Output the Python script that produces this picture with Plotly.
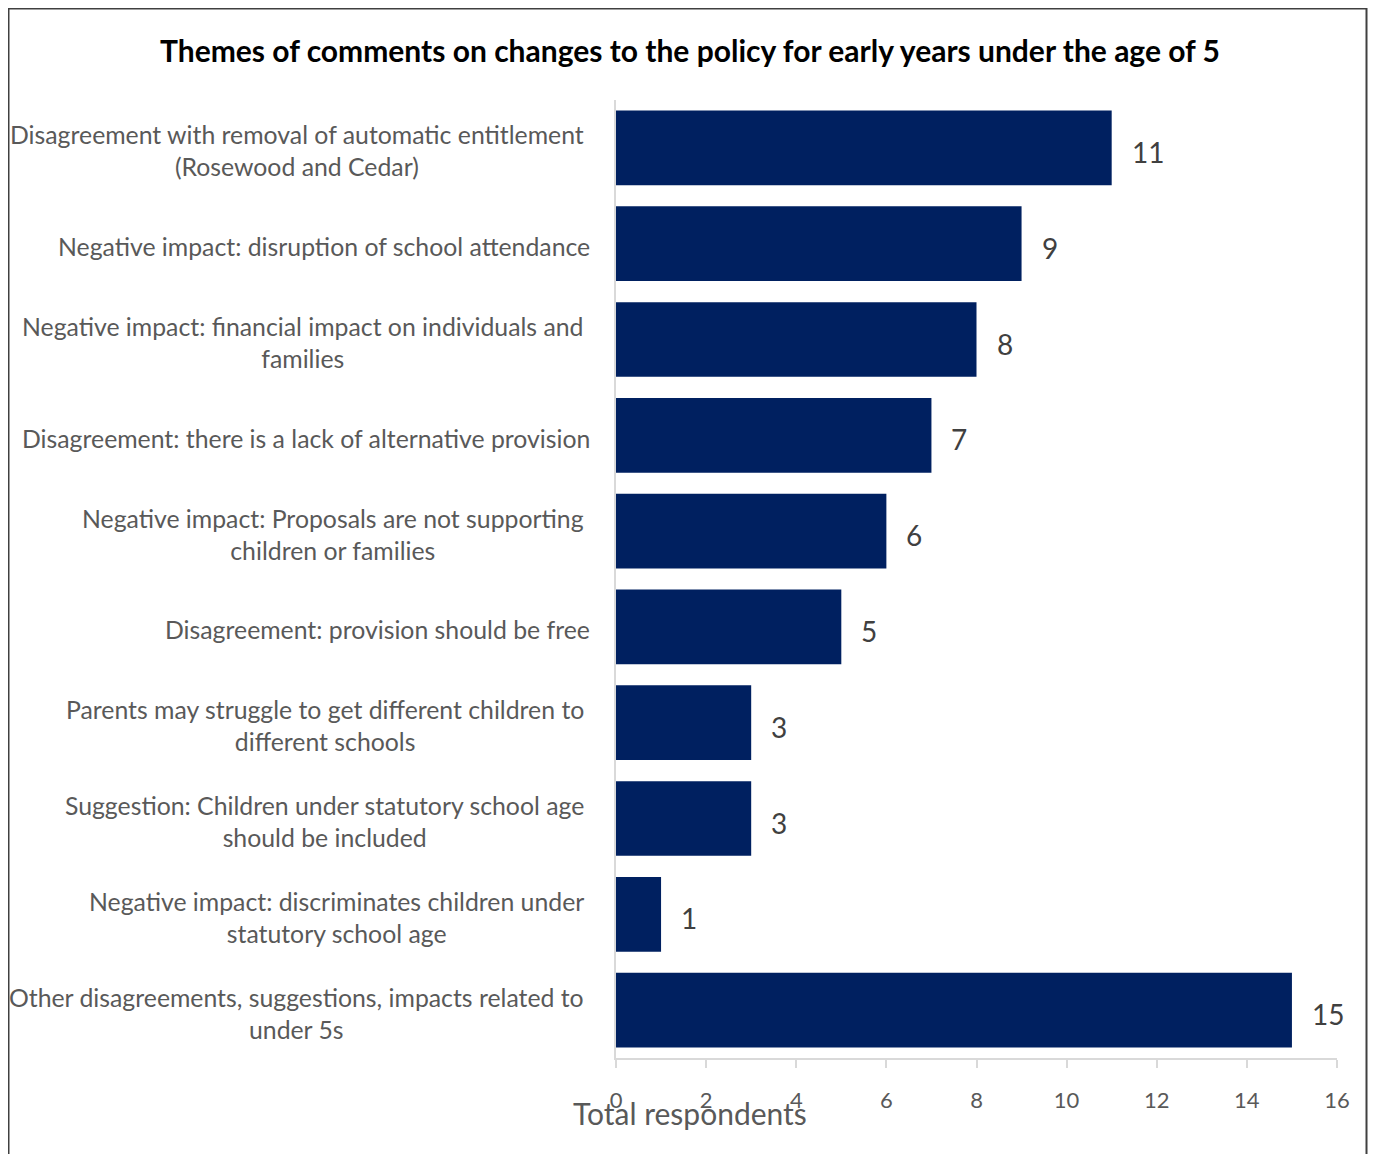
import plotly.graph_objects as go

categories = [
    "Disagreement with removal of automatic entitlement<br>(Rosewood and Cedar)",
    "Negative impact: disruption of school attendance",
    "Negative impact: financial impact on individuals and<br>families",
    "Disagreement: there is a lack of alternative provision",
    "Negative impact: Proposals are not supporting<br>children or families",
    "Disagreement: provision should be free",
    "Parents may struggle to get different children to<br>different schools",
    "Suggestion: Children under statutory school age<br>should be included",
    "Negative impact: discriminates children under<br>statutory school age",
    "Other disagreements, suggestions, impacts related to<br>under 5s",
]
values = [11, 9, 8, 7, 6, 5, 3, 3, 1, 15]
x_ticks = [0, 2, 4, 6, 8, 10, 12, 14, 16]
title_text = "Themes of comments on changes to the policy for early years under the age of 5"
x_title = "Total respondents"

FONT = "Lato"
OFF = 8  # page body margin
W, H = 1376 - 2 * OFF, 1162 - 2 * OFF
L, T = 616 - OFF, 100 - OFF
PR, PB = 1337 - OFF, 1058 - OFF
R, B = W - PR, H - PB
pw, ph = W - L - R, H - T - B

fig = go.Figure()
fig.add_trace(go.Bar(
    x=values, y=categories, orientation="h",
    marker=dict(color="#002060", line=dict(width=0)),
    width=0.78, hoverinfo="skip",
))

annotations = []
for c, v in zip(categories, values):
    annotations.append(dict(
        x=v, y=c, xref="x", yref="y", text=str(v), showarrow=False,
        xanchor="left", yanchor="middle", xshift=18, yshift=-4,
        font=dict(family=FONT, size=28, color="#404040"),
    ))
    multi = "<br>" in c
    annotations.append(dict(
        x=0, y=c, xref="paper", yref="y", text=c, showarrow=False,
        xanchor="right", yanchor="middle", align="center",
        xshift=-30 if multi else -24, yshift=-3,
        font=dict(family=FONT, size=24.8, color="#595959"),
    ))

annotations.append(dict(
    x=(690 - OFF - L) / pw, y=(PB - (1113 - OFF)) / ph, xref="paper", yref="paper",
    text=x_title, showarrow=False, xanchor="center", yanchor="middle",
    font=dict(family=FONT, size=30, color="#595959"),
))

fig.update_layout(
    width=W, height=H,
    margin=dict(l=L, r=R, t=T, b=B, autoexpand=False),
    paper_bgcolor="white", plot_bgcolor="white",
    showlegend=False,
    title=dict(text="<b>" + title_text + "</b>", x=(690 - OFF) / W, xanchor="center",
               y=1 - (51 - OFF) / H, yanchor="middle",
               font=dict(family=FONT, size=30, color="#000000")),
    xaxis=dict(range=[0, 16], tickvals=x_ticks, showgrid=False, zeroline=False,
               showline=True, linecolor="#d9d9d9", linewidth=1.5,
               ticks="outside", ticklen=8, tickcolor="#d9d9d9", tickwidth=1.5,
               ticklabelstandoff=14,
               tickfont=dict(family=FONT, size=22, color="#595959")),
    yaxis=dict(autorange="reversed", showticklabels=False, showgrid=False,
               zeroline=False, showline=True, linecolor="#d9d9d9", linewidth=2,
               ticks=""),
    annotations=annotations,
    shapes=[dict(type="rect", xref="paper", yref="paper",
                 x0=(0.5 - L) / pw, x1=(W - 1.5 - L) / pw,
                 y0=(PB - (1180 - OFF)) / ph, y1=(PB - 0.5) / ph,
                 line=dict(color="#404040", width=2), layer="above")],
    bargap=0.22,
)

fig.write_html("out.html")
